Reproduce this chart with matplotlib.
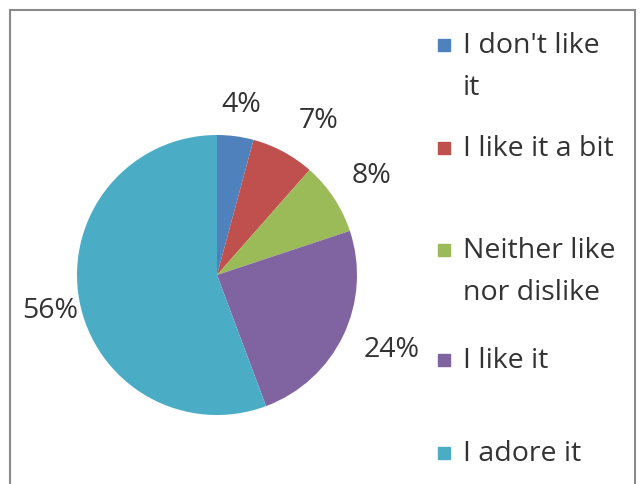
import numpy as np
import matplotlib.pyplot as plt
from matplotlib.patches import Rectangle

labels = ["I don't like\nit", "I like it a bit", "Neither like\nnor dislike", "I like it", "I adore it"]
shares = [4.2, 7.3, 8.4, 24.4, 55.7]
colors = ['#4F81BD', '#C0504D', '#9BBB59', '#8064A2', '#4BACC6']

W, H = 641, 484
plt.rcParams['font.family'] = ['Open Sans', 'DejaVu Sans']
txt_color = '#333333'

fig = plt.figure(figsize=(W / 100, H / 100), dpi=100)

# outer chart border (bottom edge runs off the picture)
fig.patches.append(Rectangle((10 / W, -0.05), 625 / W, (H - 10) / H + 0.05,
                             transform=fig.transFigure, fill=False,
                             edgecolor='#8a8a8a', linewidth=1.5))

# pie: centre at (217, 275) px, radius 140 px
cx, cy, r = 217, 275, 140
ax = fig.add_axes([(cx - r) / W, (H - cy - r) / H, 2 * r / W, 2 * r / H])
wedges, texts, autotexts = ax.pie(shares, colors=colors, startangle=90, counterclock=False,
                                  autopct='%.0f%%', pctdistance=1.28,
                                  wedgeprops=dict(linewidth=0),
                                  textprops=dict(fontsize=20.5, color=txt_color))

# Excel "best fit" label placement: distance from centre and clockwise nudge (deg)
lab_dist = [1.23, 1.32, 1.31, 1.36, 1.22]
lab_nudge = [0.7, 5.2, 0.8, -2.4, -1.9]
for w, t, d, n in zip(wedges, autotexts, lab_dist, lab_nudge):
    ang = np.deg2rad((w.theta1 + w.theta2) / 2 - n)
    t.set_position((d * np.cos(ang), d * np.sin(ang)))

ax.set_xlim(-1, 1)
ax.set_ylim(-1, 1)
ax.set_aspect('equal')
ax.axis('off')

# legend, laid out like the Excel original
legend_y = [45, 148, 250, 360, 453]
for lab, col, y in zip(labels, colors, legend_y):
    fig.patches.append(Rectangle((438 / W, (H - y - 6) / H), 12 / W, 12 / H,
                                 transform=fig.transFigure, color=col))
    fig.text(463 / W, (H - y + 13) / H, lab, fontsize=20.5, color=txt_color,
             va='top', ha='left', linespacing=1.65)

fig.savefig('out.png', dpi=100)
